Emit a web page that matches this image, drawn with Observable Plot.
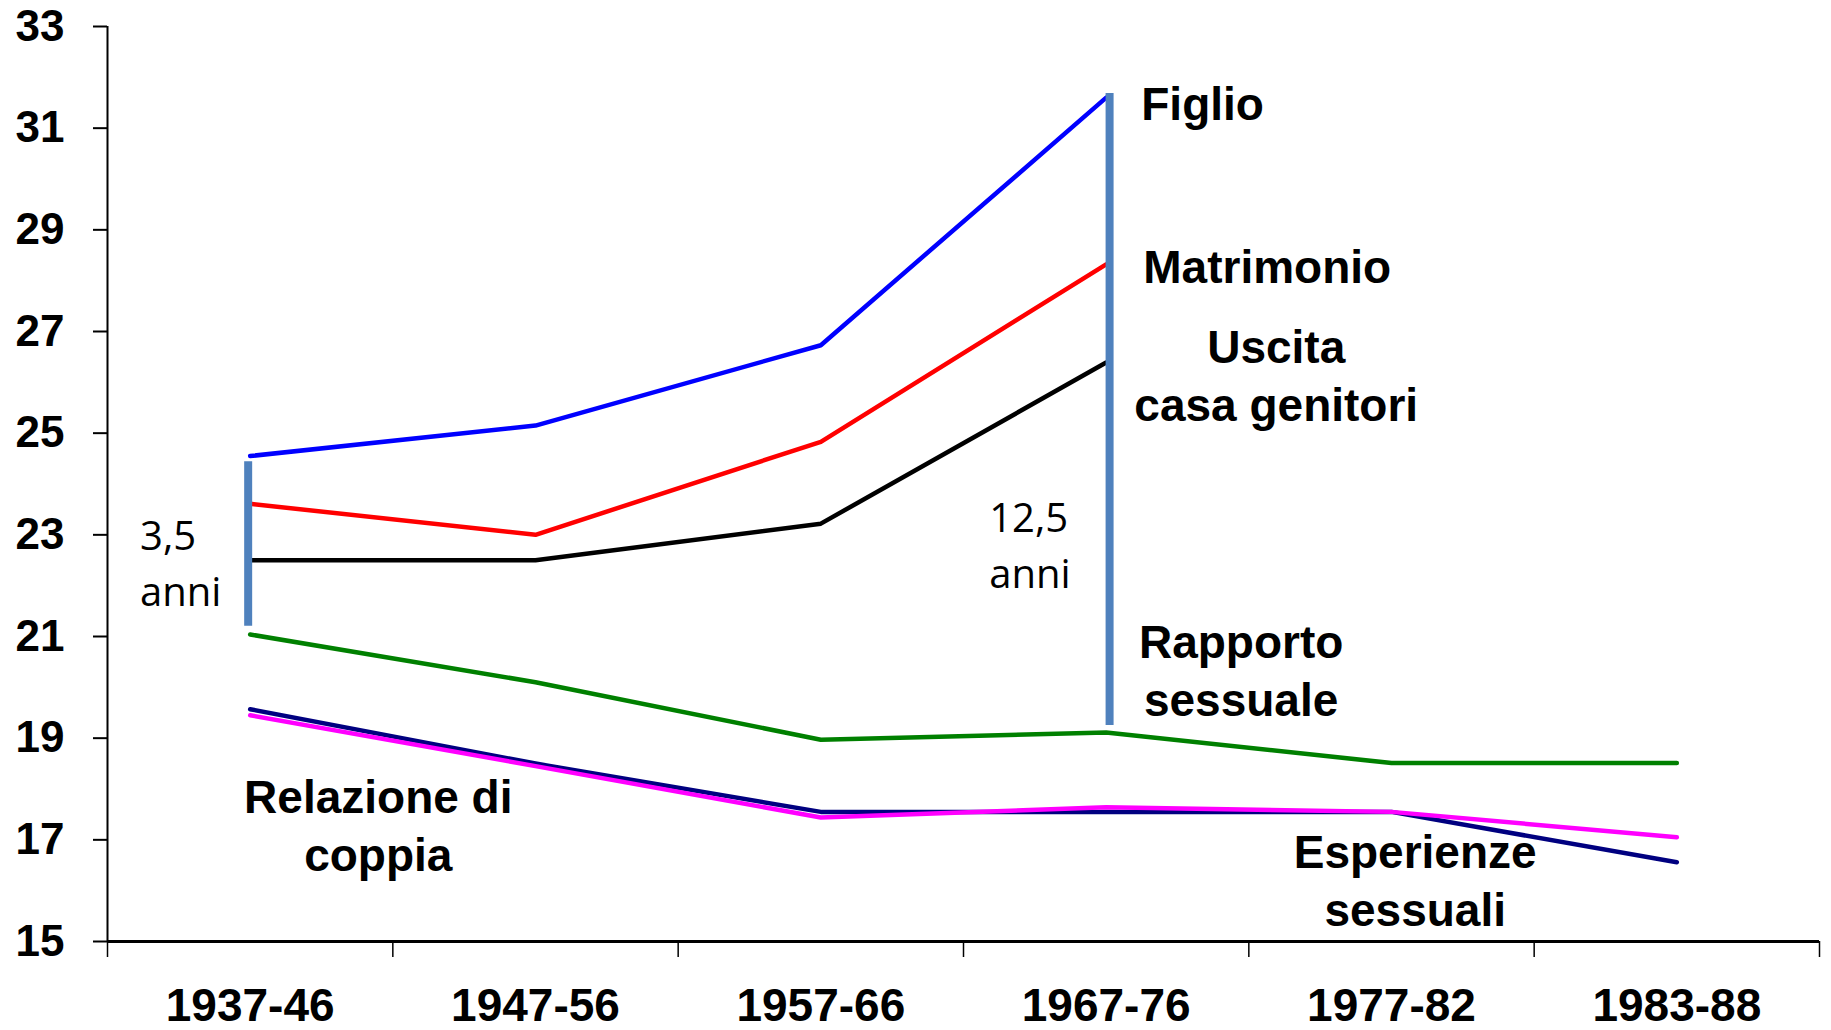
<!DOCTYPE html>
<html>
<head>
<meta charset="utf-8">
<script src="https://cdn.jsdelivr.net/npm/d3@7"></script>
<script src="https://cdn.jsdelivr.net/npm/@observablehq/plot@0.6"></script>
<style>
  html, body { margin: 0; padding: 0; background: #ffffff; }
  #chart svg { display: block; }
</style>
</head>
<body>
<div id="chart"></div>
<script>
// ---- data ----
const periods = ["1937-46", "1947-56", "1957-66", "1967-76", "1977-82", "1983-88"];
const yTicks = [15, 17, 19, 21, 23, 25, 27, 29, 31, 33];

const figlio      = [24.55, 25.15, 26.73, 31.6];
const matrimonio  = [23.61, 23.0, 24.83, 28.32];
const uscita      = [22.5, 22.5, 23.22, 26.39];
const rapporto    = [21.04, 20.1, 18.97, 19.11, 18.51, 18.51];
const esperienze  = [19.57, 18.5, 17.55, 17.55, 17.55, 16.56];
const relazione   = [19.45, 18.45, 17.44, 17.64, 17.55, 17.05];

const seriesNames  = ["Figlio", "Matrimonio", "Uscita", "Rapporto", "Esperienze", "Relazione"];
const seriesValues = [figlio, matrimonio, uscita, rapporto, esperienze, relazione];
const seriesColors = ["#0000ff", "#ff0000", "#000000", "#008000", "#000080", "#ff00ff"];

// brackets (category position, from, to)
const bracketCat  = [-0.007, 3.012];
const bracketFrom = [24.44, 31.68];
const bracketTo   = [21.2, 19.25];

// labels placed in data space (category position, age)
const labelText = ["Figlio", "Matrimonio", "Uscita\ncasa genitori", "Rapporto\nsessuale", "Relazione di\ncoppia", "Esperienze\nsessuali"];
const labelCat  = [3.123, 3.13, 3.596, 3.473, 0.449, 4.083];
const labelAge  = [31.52, 28.33, 26.18, 20.37, 17.32, 16.24];
const labelAnchor = ["start", "start", "middle", "middle", "middle", "middle"];

const noteText = ["3,5\nanni", "12,5\nanni"];
const noteCat  = [-0.386, 2.59];
const noteAge  = [22.51, 22.86];

// ---- build tables ----
const lineData = [];
seriesValues.forEach((vals, s) => vals.forEach((v, i) => lineData.push({series: seriesNames[s], i, v})));
const brackets = bracketCat.map((c, k) => ({i: c, y1: bracketFrom[k], y2: bracketTo[k]}));
const labels = labelText.map((t, k) => ({t, i: labelCat[k], v: labelAge[k], a: labelAnchor[k]}));
const notes = noteText.map((t, k) => ({t, i: noteCat[k], v: noteAge[k]}));
const boundaries = d3.range(periods.length + 1).map(k => k - 0.5);

const font = "'Liberation Sans', Arial, sans-serif";
const labelStyle = {x: "i", y: "v", text: "t", fontSize: 46, fontWeight: "bold",
  fontFamily: font, fill: "#000", lineHeight: 1.27};

const marks = [
  Plot.ruleX([-0.5], {stroke: "#000", strokeWidth: 2}),
  Plot.ruleY([15], {stroke: "#000", strokeWidth: 3}),
  Plot.axisY({ticks: yTicks, tickSize: 14, tickPadding: 29, strokeWidth: 2, label: null,
    fontSize: 44, fontWeight: "bold", fontFamily: font, tickFormat: d => String(d)}),
  Plot.axisX({ticks: boundaries, tickSize: 16, strokeWidth: 1.5, label: null, tickFormat: () => ""}),
  Plot.axisX({ticks: d3.range(periods.length), tickSize: 0, tickPadding: 47, label: null,
    fontSize: 46, fontWeight: "bold", fontFamily: font, tickFormat: i => periods[i]}),
];
seriesNames.forEach((name, s) => {
  marks.push(Plot.line(lineData.filter(d => d.series === name), {
    x: "i", y: "v", stroke: seriesColors[s], strokeWidth: 4.5, strokeLinecap: "round", strokeLinejoin: "round"
  }));
});
marks.push(
  Plot.ruleX(brackets, {x: "i", y1: "y1", y2: "y2", stroke: "#4f81bd", strokeWidth: 8}),
  Plot.text(labels.filter(d => d.a === "start"), {...labelStyle, textAnchor: "start"}),
  Plot.text(labels.filter(d => d.a === "middle"), {...labelStyle, textAnchor: "middle"}),
  Plot.text(notes, {x: "i", y: "v", text: "t", textAnchor: "start", fontSize: 40,
    fontFamily: "'Open Sans', 'Noto Sans', sans-serif", fill: "#000", lineHeight: 1.4})
);

const chart = Plot.plot({
  width: 1831,
  height: 1030,
  marginLeft: 107,
  marginRight: 12,
  marginTop: 26,
  marginBottom: 89,
  style: {background: "#ffffff", color: "#000"},
  x: {type: "linear", domain: [-0.5, 5.5], axis: null},
  y: {domain: [15, 33], axis: null},
  marks
});
document.getElementById("chart").appendChild(chart);
</script>
</body>
</html>
